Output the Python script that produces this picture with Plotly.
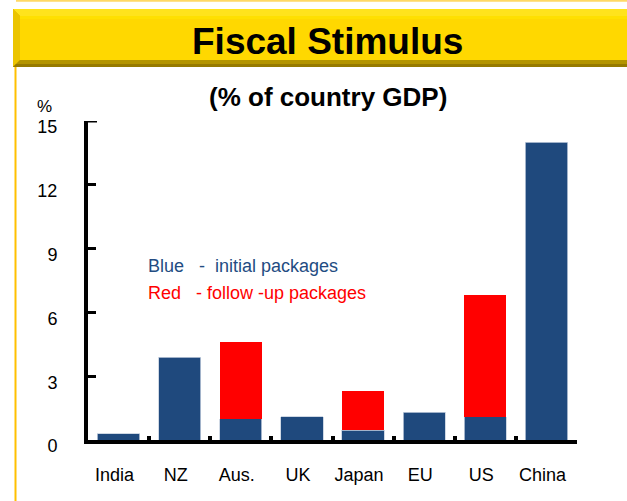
import plotly.graph_objects as go

# Fiscal stimulus packages by economy, % of GDP
countries = ["India", "NZ", "Aus.", "UK", "Japan", "EU", "US", "China"]
initial_packages = [0.3, 3.9, 1.0, 1.1, 0.45, 1.3, 1.1, 14.0]
follow_up_packages = [None, None, 3.6, None, 1.85, None, 5.7, None]
y_ticks = [0, 3, 6, 9, 12, 15]

BLUE = "#1F497D"
RED = "#FF0000"
FONT = "Liberation Sans, Arial, sans-serif"

W, H = 627, 501
ML, MR, MT, MB = 88, 50, 121, 61
PW, PH = W - ML - MR, H - MT - MB


def px(x):
    """Pixel column -> paper x."""
    return (x - ML) / PW


def py(y):
    """Pixel row -> paper y."""
    return (H - MB - y) / PH


fig = go.Figure()
fig.add_trace(go.Bar(
    x=countries, y=initial_packages, name="initial packages",
    marker=dict(color=BLUE, line=dict(color="#C3CEDD", width=0.8)),
))
fig.add_trace(go.Bar(
    x=countries, y=follow_up_packages, name="follow-up packages",
    marker=dict(color=RED, line=dict(width=0)),
))

shapes = []


def poly(points, color):
    d = "M " + " L ".join(f"{px(a):.5f},{py(b):.5f}" for a, b in points) + " Z"
    shapes.append(dict(type="path", path=d, xref="paper", yref="paper",
                       fillcolor=color, line=dict(width=0), layer="above"))


# bevelled title banner
L, R, T, B, bev = 13, 640, 9, 67, 7
poly([(L, T), (R, T), (R, B), (L, B)], "#D4AE00")
poly([(L, T), (R, T), (R, T + bev), (L + bev, T + bev)], "#FFE31C")
poly([(L, T), (L + bev, T + bev), (L + bev, B - bev), (L, B)], "#EBC400")
poly([(L, B), (L + bev, B - bev), (R, B - bev), (R, B)], "#B39400")
poly([(L + 3, B - 3), (R, B - 3), (R, B), (L, B)], "#967A00")
poly([(L + bev, T + bev), (R, T + bev), (R, B - bev), (L + bev, B - bev)], "#FFD800")
poly([(L + bev, T + bev), (R, T + bev), (R, T + bev + 3), (L + bev, T + bev + 3)], "#FFE000")

# slide frame lines
shapes.append(dict(type="line", xref="paper", yref="paper",
                   x0=px(16), x1=px(627), y0=py(0.8), y1=py(0.8),
                   line=dict(color="#FFD966", width=2)))
shapes.append(dict(type="line", xref="paper", yref="paper",
                   x0=px(15.5), x1=px(15.5), y0=py(B), y1=py(H),
                   line=dict(color="#FFC000", width=2)))
# small hook at the top of the value axis
shapes.append(dict(type="line", xref="paper", yref="y",
                   x0=px(87), x1=px(97), y0=y_ticks[-1], y1=y_ticks[-1],
                   line=dict(color="black", width=3)))

annotations = [
    dict(text="<b>Fiscal Stimulus</b>", x=px(327), y=py(41), xref="paper", yref="paper",
         showarrow=False, xanchor="center", yanchor="middle",
         font=dict(family=FONT, size=37, color="black")),
    dict(text="<b>(% of country GDP)</b>", x=px(328), y=py(97), xref="paper", yref="paper",
         showarrow=False, xanchor="center", yanchor="middle",
         font=dict(family=FONT, size=26, color="black")),
    dict(text="%", x=px(44), y=py(106), xref="paper", yref="paper",
         showarrow=False, xanchor="center", yanchor="middle",
         font=dict(family=FONT, size=17, color="black")),
    dict(text="Blue\u00a0\u00a0\u00a0-\u00a0\u00a0initial\u00a0packages", x=px(146), y=py(266),
         xref="paper", yref="paper", showarrow=False, xanchor="left", yanchor="middle",
         font=dict(family=FONT, size=18, color="#234C82")),
    dict(text="Red\u00a0\u00a0\u00a0-\u00a0follow\u00a0-up\u00a0packages", x=px(146), y=py(293),
         xref="paper", yref="paper", showarrow=False, xanchor="left", yanchor="middle",
         font=dict(family=FONT, size=18, color=RED)),
]

fig.update_layout(
    width=W, height=H,
    margin=dict(l=ML, r=MR, t=MT, b=MB, pad=0),
    paper_bgcolor="white", plot_bgcolor="white",
    barmode="stack", bargap=0.31,
    showlegend=False,
    font=dict(family=FONT, size=18, color="black"),
    shapes=shapes, annotations=annotations,
    xaxis=dict(
        type="category", range=[-0.5, 7.5],
        showline=True, linecolor="black", linewidth=4,
        ticks="inside", tickson="boundaries", ticklen=4, tickwidth=4, tickcolor="black",
        showgrid=False, ticklabelstandoff=15, ticklabelshift=-4,
        tickfont=dict(family=FONT, size=18, color="black"),
    ),
    yaxis=dict(
        range=[0, 15], tickvals=y_ticks, ticktext=[str(v) for v in y_ticks],
        showline=True, linecolor="black", linewidth=4,
        ticks="inside", ticklen=8, tickwidth=3, tickcolor="black",
        showgrid=False, zeroline=False,
        ticklabelstandoff=23, ticklabelshift=6,
        tickfont=dict(family=FONT, size=18, color="black"),
    ),
)

fig.write_html("out.html")
